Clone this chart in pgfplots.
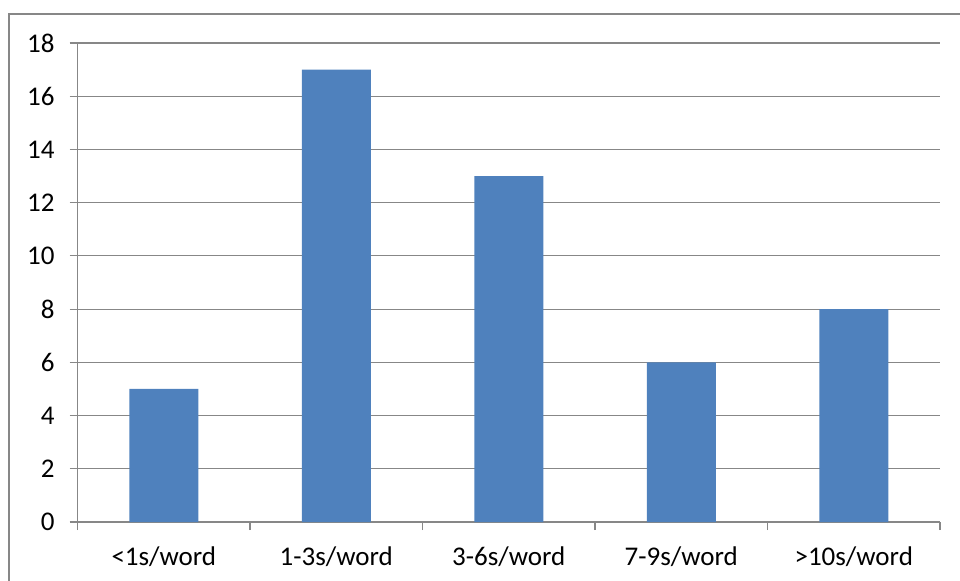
\documentclass[border=0pt]{standalone}
\usepackage{fontspec}
\setmainfont{Carlito}
\usepackage{pgfplots}
\pgfplotsset{compat=1.18}
\definecolor{barblue}{HTML}{4F81BD}
\definecolor{gridgray}{HTML}{878787}
\begin{document}
\begin{tikzpicture}
\useasboundingbox (0,0) rectangle (480pt,290pt);
\draw[gridgray, line width=0.8pt] (4.5pt,-2pt) -- (4.5pt,283pt) -- (482pt,283pt);
\begin{axis}[
  at={(38.8pt,29pt)}, anchor=south west,
  width=431.2pt, height=239.5pt, scale only axis,
  xmin=-0.5, xmax=4.5, ymin=0, ymax=18,
  ytick={0,2,...,18},
  xtick={0,1,2,3,4},
  xticklabels={<1s/word,1-3s/word,3-6s/word,7-9s/word,>10s/word},
  minor xtick={-0.5,0.5,1.5,2.5,3.5,4.5},
  major x tick style={draw=none},
  tick align=outside,
  major tick length=4pt, minor tick length=4pt,
  tick style={gridgray, line width=0.6pt},
  axis x line*=bottom, axis y line*=left,
  axis line style={gridgray, line width=0.6pt, -},
  ymajorgrids, grid style={gridgray, line width=0.6pt},
  ticklabel style={font=\fontsize{13.5}{15}\selectfont, text=black},
  /pgf/number format/assume math mode=true,
  yticklabel style={xshift=-4pt},
  xticklabel style={yshift=-5pt},
  ybar, bar width=34.5pt,
  clip=false,
]
\addplot[fill=barblue, draw=none] coordinates {(0,5) (1,17) (2,13) (3,6) (4,8)};
\end{axis}
\end{tikzpicture}
\end{document}
